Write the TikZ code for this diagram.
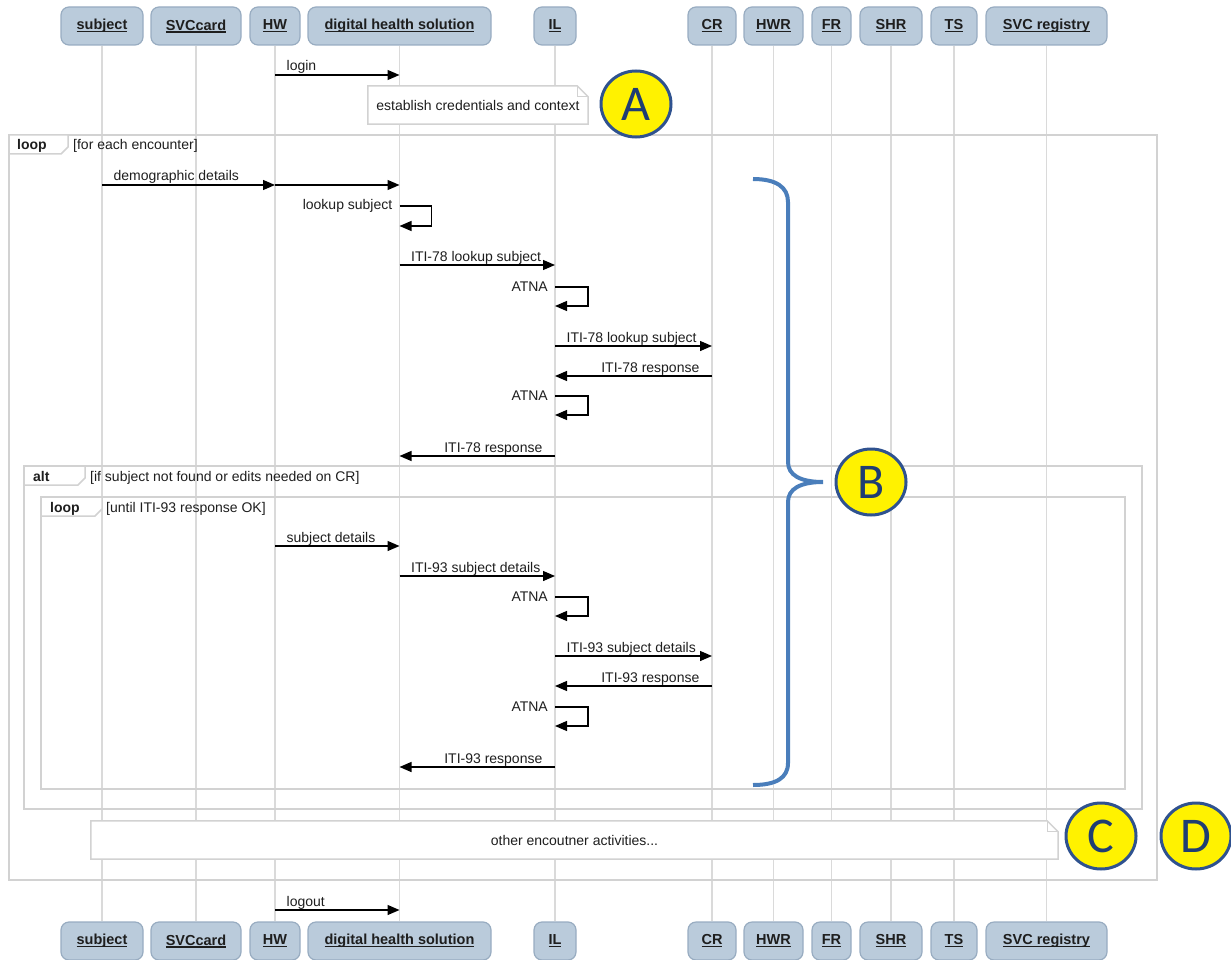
\documentclass[tikz,border=0pt]{standalone}
\usepackage{fontspec}
\setmainfont{Liberation Sans}
\newfontfamily\badgefont{Carlito}
\usetikzlibrary{arrows.meta,shapes.geometric,backgrounds}

\definecolor{headfill}{HTML}{BACBDB}
\definecolor{headline}{HTML}{98ACC1}
\definecolor{lifegray}{HTML}{DADADA}
\definecolor{framegray}{HTML}{D2D2D2}
\definecolor{bracecol}{HTML}{4A7EBB}
\definecolor{badgeline}{HTML}{2F528F}
\definecolor{badgetext}{HTML}{1F3D73}
\definecolor{inktext}{HTML}{1E1E1E}

% underlined participant name, rule at a fixed depth under the baseline
\newcommand\actorname[1]{\setbox0\hbox{#1}\rlap{\rule[-2.5pt]{\wd0}{1.2pt}}\box0}

\tikzset{
  head/.style={draw=headline, fill=headfill, rounded corners=8pt, line width=1.2pt,
    minimum height=38pt, inner sep=0pt, text=inktext,
    font=\fontsize{14.5}{16}\selectfont\bfseries},
  life/.style={draw=lifegray, line width=1.5pt},
  msg/.style={draw=black, line width=1.3pt, -{Triangle[length=12pt,width=10pt]}},
  lbl/.style={font=\fontsize{14}{16}\selectfont, text=inktext, inner sep=0pt},
  rlbl/.style={lbl, pos=0, anchor=base west, xshift=11pt, yshift=4pt},
  llbl/.style={lbl, pos=0, anchor=base east, xshift=-12pt, yshift=4pt},
  frame/.style={draw=framegray, line width=1.5pt},
  tab/.style={draw=framegray, fill=white, line width=1.5pt},
  tabtxt/.style={lbl, anchor=base west, font=\fontsize{14}{16}\selectfont\bfseries},
  condtxt/.style={lbl, anchor=base west},
  notetxt/.style={lbl, inner sep=0pt, minimum height=38pt},
  notebox/.style={draw=framegray, fill=white, line width=1.5pt},
  badge/.style={ellipse, draw=badgeline, fill=yellow, line width=3pt,
    minimum width=70pt, minimum height=66pt, inner sep=0pt, text=badgetext,
    font=\badgefont\fontsize{50}{50}\selectfont},
  brace/.style={draw=bracecol, line width=4pt},
}

\begin{document}
\begin{tikzpicture}[x=1pt, y=-1pt]
\useasboundingbox (0,0) rectangle (1231,960);

% participants, top row
\node[head, minimum width=82pt]  (tSub) at (102,26)    {\actorname{subject}};
\node[head, minimum width=90pt]  (tSvc) at (196,26)    {\actorname{SVCcard}};
\node[head, minimum width=50pt]  (tHW)  at (275,26)    {\actorname{HW}};
\node[head, minimum width=183pt] (tDHS) at (399.5,26)  {\actorname{digital health solution}};
\node[head, minimum width=42pt]  (tIL)  at (555,26)    {\actorname{IL}};
\node[head, minimum width=48pt]  (tCR)  at (712,26)    {\actorname{CR}};
\node[head, minimum width=59pt]  (tHWR) at (773.5,26)  {\actorname{HWR}};
\node[head, minimum width=39pt]  (tFR)  at (831.5,26)  {\actorname{FR}};
\node[head, minimum width=62pt]  (tSHR) at (891,26)    {\actorname{SHR}};
\node[head, minimum width=46pt]  (tTS)  at (954,26)    {\actorname{TS}};
\node[head, minimum width=121pt] (tReg) at (1046.5,26) {\actorname{SVC registry}};

% participants, bottom row
\node[head, minimum width=82pt]  (bSub) at (102,941)    {\actorname{subject}};
\node[head, minimum width=90pt]  (bSvc) at (196,941)    {\actorname{SVCcard}};
\node[head, minimum width=50pt]  (bHW)  at (275,941)    {\actorname{HW}};
\node[head, minimum width=183pt] (bDHS) at (399.5,941)  {\actorname{digital health solution}};
\node[head, minimum width=42pt]  (bIL)  at (555,941)    {\actorname{IL}};
\node[head, minimum width=48pt]  (bCR)  at (712,941)    {\actorname{CR}};
\node[head, minimum width=59pt]  (bHWR) at (773.5,941)  {\actorname{HWR}};
\node[head, minimum width=39pt]  (bFR)  at (831.5,941)  {\actorname{FR}};
\node[head, minimum width=62pt]  (bSHR) at (891,941)    {\actorname{SHR}};
\node[head, minimum width=46pt]  (bTS)  at (954,941)    {\actorname{TS}};
\node[head, minimum width=121pt] (bReg) at (1046.5,941) {\actorname{SVC registry}};

% note texts
\node[notetxt, minimum width=220pt] (noteA) at (478,105) {establish credentials and context};
\node[notetxt, minimum width=967pt] (noteC) at (574.5,840) {other encoutner activities...};

\begin{scope}[on background layer]
  % lifelines
  \foreach \p in {Sub,Svc,HW,DHS,IL,CR,HWR,FR,SHR,TS,Reg}
    \draw[life] (t\p.south) -- (b\p.north);
  % note outlines with folded corner
  \foreach \n in {noteA,noteC}{
    \draw[notebox] (\n.north west) -- ([xshift=-11pt]\n.north east)
      -- ([yshift=-11pt]\n.north east) -- (\n.south east) -- (\n.south west) -- cycle;
    \draw[framegray, line width=1pt] ([xshift=-11pt]\n.north east)
      -- ([xshift=-11pt,yshift=-11pt]\n.north east) -- ([yshift=-11pt]\n.north east);
  }
\end{scope}

% combined fragments
\draw[frame] (9,135) rectangle (1157,880);
\draw[tab] (9,135) -- (68,135) -- (68,147) -- (61,154) -- (9,154) -- cycle;
\node[tabtxt]  (fOuter) at (17,150) {loop};
\node[condtxt] (cOuter) at (73,150) {[for each encounter]};

\draw[frame] (24,466) rectangle (1142,809);
\draw[tab] (24,466) -- (85,466) -- (85,478) -- (78,485) -- (24,485) -- cycle;
\node[tabtxt]  (fAlt) at (33,481) {alt};
\node[condtxt] (cAlt) at (90,481) {[if subject not found or edits needed on CR]};

\draw[frame] (41,497) rectangle (1125,789);
\draw[tab] (41,497) -- (102,497) -- (102,509) -- (95,516) -- (41,516) -- cycle;
\node[tabtxt]  (fInner) at (50,512) {loop};
\node[condtxt] (cInner) at (106,512) {[until ITI-93 response OK]};

% messages
\draw[msg] (tHW |- 0,75) -- (tDHS |- 0,75) node[rlbl] {login};

\draw[msg] (tSub |- 0,185) -- (tHW |- 0,185) node[rlbl] {demographic details};
\draw[msg] (tHW |- 0,185) -- (tDHS |- 0,185);

\draw[msg] (tDHS |- 0,206) -- ++(32,0) -- ++(0,20) -- ++(-32,0);
\node[lbl, anchor=base east] (sLook) at ([xshift=-7pt] tDHS |- 0,210) {lookup subject};

\draw[msg] (tDHS |- 0,265) -- (tIL |- 0,265) node[rlbl] {ITI-78 lookup subject};

\draw[msg] (tIL |- 0,287) -- ++(33,0) -- ++(0,19) -- ++(-33,0);
\node[lbl, anchor=base east] (sAtna1) at ([xshift=-7pt] tIL |- 0,291) {ATNA};

\draw[msg] (tIL |- 0,346) -- (tCR |- 0,346) node[rlbl] {ITI-78 lookup subject};
\draw[msg] (tCR |- 0,376) -- (tIL |- 0,376) node[llbl] {ITI-78 response};

\draw[msg] (tIL |- 0,396) -- ++(33,0) -- ++(0,19) -- ++(-33,0);
\node[lbl, anchor=base east] (sAtna2) at ([xshift=-7pt] tIL |- 0,400) {ATNA};

\draw[msg] (tIL |- 0,456) -- (tDHS |- 0,456) node[llbl] {ITI-78 response};

\draw[msg] (tHW |- 0,546) -- (tDHS |- 0,546) node[rlbl] {subject details};
\draw[msg] (tDHS |- 0,576) -- (tIL |- 0,576) node[rlbl] {ITI-93 subject details};

\draw[msg] (tIL |- 0,597) -- ++(33,0) -- ++(0,19) -- ++(-33,0);
\node[lbl, anchor=base east] (sAtna3) at ([xshift=-7pt] tIL |- 0,601) {ATNA};

\draw[msg] (tIL |- 0,656) -- (tCR |- 0,656) node[rlbl] {ITI-93 subject details};
\draw[msg] (tCR |- 0,686) -- (tIL |- 0,686) node[llbl] {ITI-93 response};

\draw[msg] (tIL |- 0,707) -- ++(33,0) -- ++(0,19) -- ++(-33,0);
\node[lbl, anchor=base east] (sAtna4) at ([xshift=-7pt] tIL |- 0,711) {ATNA};

\draw[msg] (tIL |- 0,767) -- (tDHS |- 0,767) node[llbl] {ITI-93 response};

\draw[msg] (tHW |- 0,910) -- (tDHS |- 0,910) node[rlbl] {logout};

% curly brace grouping the lookup block
\draw[brace] (753,179) .. controls (776,179) and (788,187) .. (788,202)
  -- (788,462) .. controls (788,475) and (800,482) .. (823,482)
  .. controls (800,482) and (788,489) .. (788,502)
  -- (788,763) .. controls (788,778) and (776,785) .. (753,785);

% markers
\node[badge] (bA) at (636,104)  {A};
\node[badge] (bB) at (871,482)  {B};
\node[badge] (bC) at (1101,836) {C};
\node[badge] (bD) at (1196,836) {D};
\end{tikzpicture}
\end{document}
